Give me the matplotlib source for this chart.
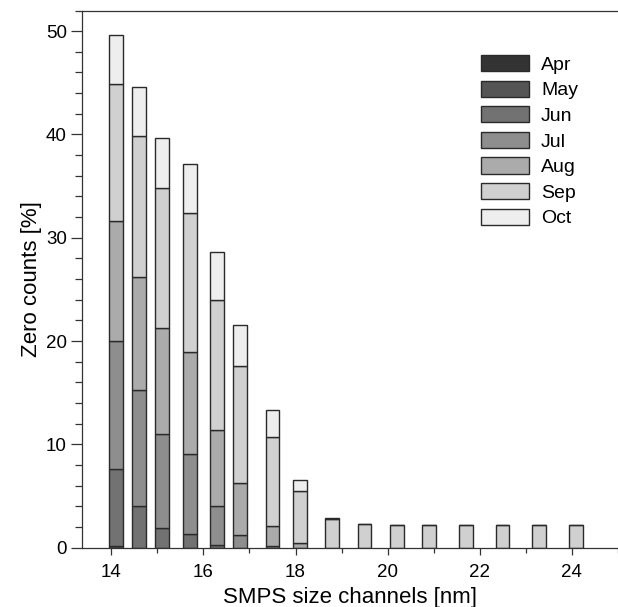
#!/usr/bin/env python3
"""Zero counts por canal SMPS, barras apiladas por mes (Apr-Oct)."""

import matplotlib

matplotlib.use("Agg")
import matplotlib.pyplot as plt
from matplotlib.ticker import MultipleLocator

plt.rcParams["font.family"] = ["Liberation Sans", "DejaVu Sans"]

# canales de tamano SMPS [nm]
canales = [14.1, 14.6, 15.1, 15.7, 16.3, 16.8, 17.5, 18.1,
           18.8, 19.5, 20.2, 20.9, 21.7, 22.5, 23.3, 24.1]

meses = ["Apr", "May", "Jun", "Jul", "Aug", "Sep", "Oct"]
colores = ["#333333", "#555555", "#727272", "#8e8e8e", "#ababab", "#d0d0d0", "#eeeeee"]

# zero counts [%] por mes (segmentos de cada barra)
apr = [0, 0, 0, 0, 0, 0, 0, 0, 0, 0, 0, 0, 0, 0, 0, 0]
may = [0.15, 0, 0, 0, 0, 0, 0, 0, 0, 0, 0, 0, 0, 0, 0, 0]
jun = [7.44, 4.07, 1.94, 1.33, 0.23, 0, 0, 0, 0, 0, 0, 0, 0, 0, 0, 0]
jul = [12.41, 11.2, 9.1, 7.71, 3.84, 1.2, 0.16, 0, 0, 0, 0, 0, 0, 0, 0, 0]
aug = [11.6, 10.9, 10.2, 9.93, 7.35, 5.09, 1.94, 0.45, 0, 0, 0, 0, 0, 0, 0, 0]
sep = [13.28, 13.65, 13.58, 13.46, 12.58, 11.3, 8.65, 5.01,
       2.75, 2.26, 2.17, 2.17, 2.2, 2.15, 2.23, 2.17]
oct_ = [4.75, 4.75, 4.81, 4.68, 4.6, 4.0, 2.61, 1.09, 0.15, 0, 0, 0, 0, 0, 0, 0]

series = [apr, may, jun, jul, aug, sep, oct_]

fig = plt.figure(figsize=(6.18, 6.07), dpi=100)
ax = fig.add_axes([0.132, 0.0977, 0.868, 0.885])

base = [0.0] * len(canales)
for mes, col, vals in zip(meses, colores, series):
    ax.bar(canales, vals, width=0.30, bottom=base, color=col,
           edgecolor="#2a2a2a", linewidth=1.0, label=mes)
    base = [b + v for b, v in zip(base, vals)]

ax.set_xlim(13.35, 25.01)
ax.set_ylim(0, 52)
ax.xaxis.set_major_locator(MultipleLocator(2))
ax.xaxis.set_minor_locator(MultipleLocator(1))
ax.yaxis.set_major_locator(MultipleLocator(10))
ax.yaxis.set_minor_locator(MultipleLocator(2))
ax.tick_params(which="both", direction="out", width=0.9, color="#333333",
               labelsize=13.5, top=False, right=False)
ax.tick_params(axis="x", which="major", length=5, pad=6.5)
ax.tick_params(axis="x", which="minor", length=3.3)
ax.tick_params(axis="y", which="major", length=8, pad=2.6)
ax.tick_params(axis="y", which="minor", length=4.7)

ax.spines["right"].set_visible(False)
for s in ("left", "bottom", "top"):
    ax.spines[s].set_color("#333333")
    ax.spines[s].set_linewidth(0.9)

ax.set_xlabel("SMPS size channels [nm]", fontsize=16, labelpad=4.5)
ax.set_ylabel("Zero counts [%]", fontsize=16, labelpad=3)

ax.legend(loc="upper left", bbox_to_anchor=(0.744, 0.917), frameon=False,
          fontsize=14, handlelength=2.5, handleheight=0.9,
          handletextpad=0.6, labelspacing=0.35, borderpad=0, borderaxespad=0)

fig.savefig("out.png", dpi=100)
